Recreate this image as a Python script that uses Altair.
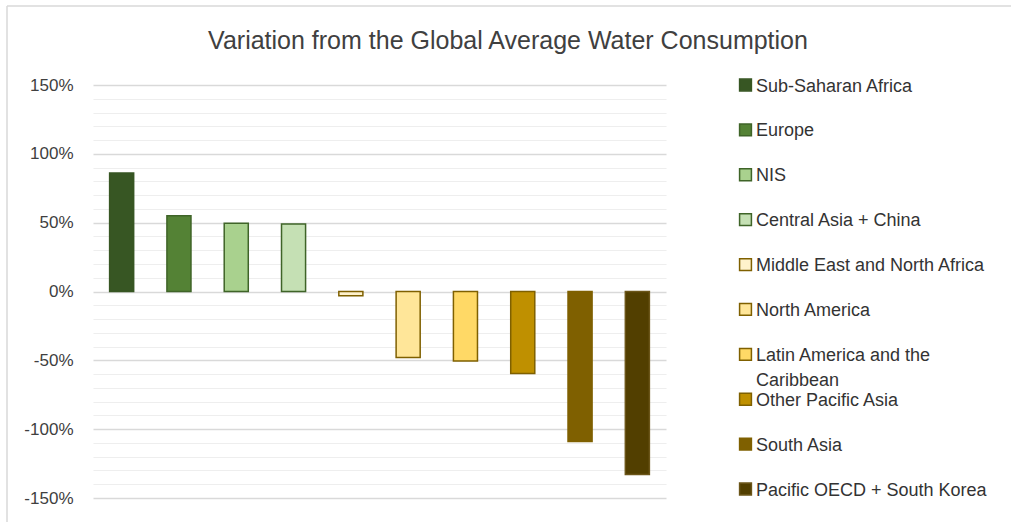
import altair as alt
import pandas as pd

# Regions in plotted order, their deviation from the global average (percent)
regions = [
    "Sub-Saharan Africa",
    "Europe",
    "NIS",
    "Central Asia + China",
    "Middle East and North Africa",
    "North America",
    "Latin America and the Caribbean",
    "Other Pacific Asia",
    "South Asia",
    "Pacific OECD + South Korea",
]
legend_labels = [
    "Sub-Saharan Africa",
    "Europe",
    "NIS",
    "Central Asia + China",
    "Middle East and North Africa",
    "North America",
    "Latin America and the\nCaribbean",
    "Other Pacific Asia",
    "South Asia",
    "Pacific OECD + South Korea",
]
variation = [86, 55, 49.5, 49, -3, -48, -50.5, -59.5, -109, -133]

fills = ["#375623", "#548235", "#A9D18E", "#C5E0B4", "#FFF2CC",
         "#FFE699", "#FFD966", "#BF9000", "#7F6000", "#523F00"]
strokes = ["#375623", "#3F6428", "#3F6428", "#3F6428", "#7F6000",
           "#7F6000", "#7F6000", "#7F6000", "#7F6000", "#6B5518"]

title_text = "Variation from the Global Average Water Consumption"

df = pd.DataFrame({"region": regions, "label": legend_labels, "value": variation})

FONT = "Liberation Sans"
TEXT = "#404040"
W, H = 573, 413

color = alt.Color("region:N", scale=alt.Scale(domain=regions, range=fills), legend=None)
stroke = alt.Stroke("region:N", scale=alt.Scale(domain=regions, range=strokes), legend=None)

is_major = "datum.value % 50 === 0"

bars = alt.Chart(df).mark_bar(strokeWidth=1.5).encode(
    x=alt.X("region:N", sort=regions, axis=None,
            scale=alt.Scale(paddingInner=0.58, paddingOuter=0.29)),
    y=alt.Y(
        "value:Q",
        scale=alt.Scale(domain=[-150, 150], nice=False),
        axis=alt.Axis(
            values=list(range(-150, 151, 10)),
            labelExpr=f"{is_major} ? datum.value + '%' : ''",
            gridColor={"condition": {"test": is_major, "value": "#d9d9d9"}, "value": "#eeeeee"},
            gridWidth={"condition": {"test": is_major, "value": 1.5}, "value": 1.2},
            domain=False,
            ticks=False,
            labelPadding=20,
            labelFont=FONT,
            labelFontSize=17,
            labelColor=TEXT,
            title=None,
        ),
    ),
    color=color,
    stroke=stroke,
)

legend_y = alt.Y("region:N", sort=regions, axis=None,
                 scale=alt.Scale(type="point", range=[0, 404], padding=0))

swatches = alt.Chart(df).mark_square(size=140, strokeWidth=1.5, opacity=1).encode(
    x=alt.value(652.5),
    y=legend_y,
    color=color,
    stroke=stroke,
)

legend_text = alt.Chart(df).mark_text(
    align="left", baseline="alphabetic", dy=6.5, lineBreak="\n", lineHeight=25,
    font=FONT, fontSize=18, color="#333333",
).encode(
    x=alt.value(663),
    y=legend_y,
    text="label:N",
)

one = alt.Data(values=[{"k": 0}])

title = alt.Chart(one).mark_text(
    align="center", baseline="alphabetic", font=FONT, fontSize=25, color=TEXT, text=title_text,
).encode(x=alt.value(415), y=alt.value(-36))

frame_left = alt.Chart(one).mark_rule(color="#d9d9d9", strokeWidth=1.5).encode(
    x=alt.value(-86), y=alt.value(-79), y2=alt.value(H + 40)
)
frame_top = alt.Chart(one).mark_rule(color="#d9d9d9", strokeWidth=1.5).encode(
    x=alt.value(-86), x2=alt.value(W + 400), y=alt.value(-79)
)

chart = (
    alt.layer(bars, swatches, legend_text, title, frame_left, frame_top)
    .resolve_scale(y="independent")
    .properties(
        width=W,
        height=H,
        autosize=alt.AutoSizeParams(type="none"),
        padding={"left": 93, "top": 85, "right": 345, "bottom": 24},
        background="white",
    )
    .configure_view(stroke=None)
)

chart.save("out.html", embed_options={"renderer": "svg", "actions": False})
